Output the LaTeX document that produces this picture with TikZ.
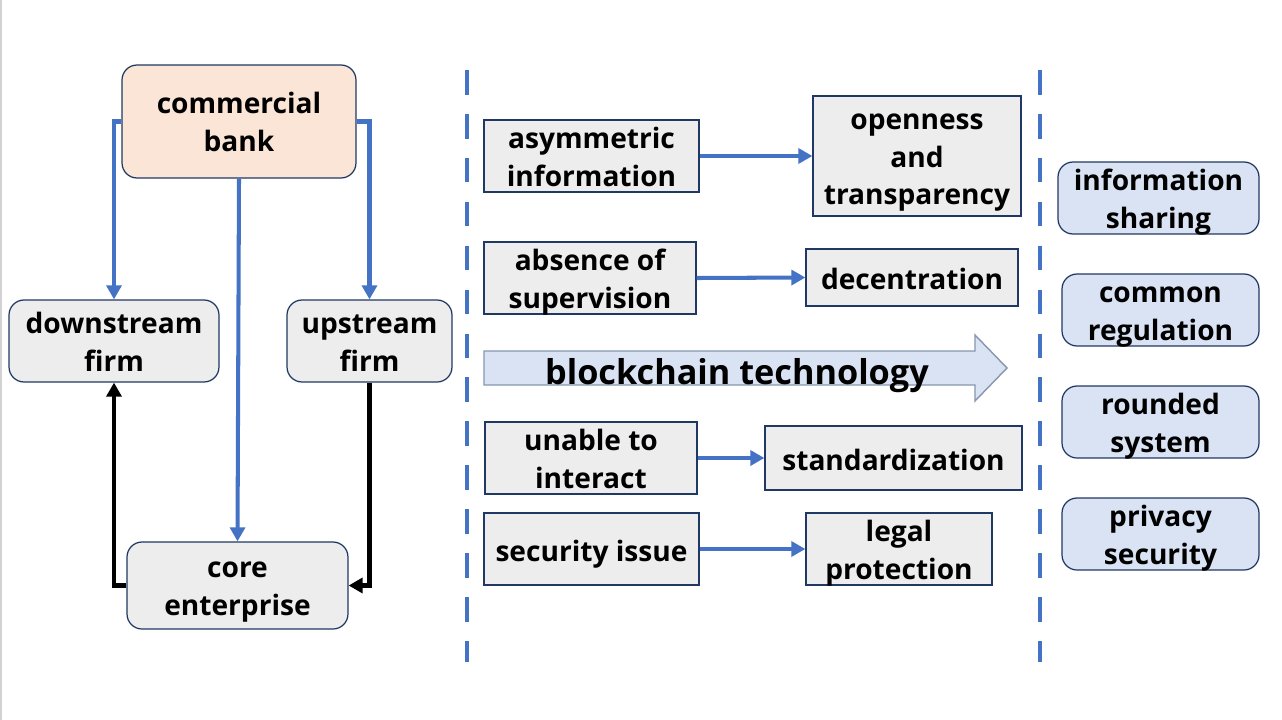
\documentclass[tikz,border=0pt]{standalone}
\usepackage{fontspec}
\setmainfont{Open Sans}
\usetikzlibrary{arrows.meta}
\definecolor{navy}{HTML}{203864}
\definecolor{arrowblue}{HTML}{4472C4}
\definecolor{peach}{HTML}{FBE5D6}
\definecolor{boxgray}{HTML}{EDEDED}
\definecolor{paleblue}{HTML}{DAE3F3}
\definecolor{edgeblue}{HTML}{8497B0}
\newcommand\toph{39.2pt}

\begin{document}
\begin{tikzpicture}[x=0.02cm,y=-0.02cm]
  \tikzstyle{every node}=[font=\bfseries\fontsize{16}{21.5}\selectfont,align=center,inner xsep=0pt,inner ysep=-5pt,
    execute at begin node={\rule{0pt}{\toph}},execute at end node={\rule[-5pt]{0pt}{5pt}}]
  \tikzstyle{oneline}=[/utils/exec={\def\toph{18.7pt}}]
  \tikzstyle{threeline}=[/utils/exec={\def\toph{60.7pt}}]
  \tikzstyle{rbox}=[draw=navy,line width=0.7pt,rounded corners=0.3cm,fill=boxgray]
  \tikzstyle{sbox}=[draw=navy,line width=0.7pt,fill=boxgray]
  \tikzstyle{gbox}=[rbox,fill=paleblue]
  \tikzstyle{bluearr}=[draw=arrowblue,line width=2.3pt,-{Triangle[length=8pt,width=8.5pt]}]
  \tikzstyle{blackarr}=[draw=black,line width=2.3pt,-{Triangle[length=8pt,width=8.5pt]}]
  \tikzstyle{dashline}=[draw=arrowblue,line width=2.8pt,dash pattern=on 14pt off 11pt]
  \useasboundingbox (0,0) rectangle (1282,720);
  \draw[gray!35,line width=0.8pt] (1,0) -- (1,720);

  \node[rbox,fill=peach,minimum width=4.68cm,minimum height=2.26cm] (bank) at (239,121.5) {commercial\\bank};
  \node[rbox,minimum width=4.2cm,minimum height=1.64cm] (down) at (114,341) {downstream\\firm};
  \node[rbox,minimum width=3.3cm,minimum height=1.64cm] (up) at (369.5,341) {upstream\\firm};
  \node[rbox,minimum width=4.42cm,minimum height=1.74cm] (core) at (237.5,585.5) {core\\enterprise};

  \draw[bluearr] (bank.west) -| (down.north);
  \draw[bluearr] (bank.east) -| (up.north);
  \draw[bluearr] (bank.south) -- (core.north);
  \draw[blackarr] (core.west) -| (down.south);
  \draw[blackarr] (up.south) |- (core.east);

  \draw[dashline] (467,70) -- (467,662);
  \draw[dashline] (1040,70) -- (1040,662);

  \node[sbox,minimum width=4.3cm,minimum height=1.44cm] (asym) at (591.5,156) {asymmetric\\information};
  \node[sbox,threeline,minimum width=4.16cm,minimum height=2.4cm] (open) at (917,156) {openness\\and\\transparency};
  \node[sbox,minimum width=4.24cm,minimum height=1.44cm] (absence) at (590,278) {absence of\\supervision};
  \node[sbox,oneline,minimum width=4.24cm,minimum height=1.14cm] (decent) at (912,277.5) {decentration};
  \node[sbox,minimum width=4.24cm,minimum height=1.44cm] (unable) at (591,458) {unable to\\interact};
  \node[sbox,oneline,minimum width=5.14cm,minimum height=1.28cm] (standard) at (893.5,458) {standardization};
  \node[sbox,oneline,minimum width=4.3cm,minimum height=1.44cm] (secur) at (591.5,549) {security issue};
  \node[sbox,minimum width=3.72cm,minimum height=1.44cm] (legal) at (899,549) {legal\\protection};

  \draw[bluearr] (asym.east) -- (open.west);
  \draw[bluearr] (absence.east) -- (decent.west);
  \draw[bluearr] (unable.east) -- (standard.west);
  \draw[bluearr] (secur.east) -- (legal.west);

  \draw[draw=edgeblue,fill=paleblue,line width=0.8pt] (484,351) -- (975,351) -- (975,335) -- (1007,368)
    -- (975,401) -- (975,385) -- (484,385) -- cycle;
  \node[oneline,font=\bfseries\fontsize{19.5}{24}\selectfont] (chain) at (737,372) {blockchain technology};

  \node[gbox,minimum width=4.02cm,minimum height=1.44cm] (share) at (1158.5,198) {information\\sharing};
  \node[gbox,minimum width=3.94cm,minimum height=1.44cm] (common) at (1160.5,310) {common\\regulation};
  \node[gbox,minimum width=3.94cm,minimum height=1.44cm] (system) at (1160.5,422) {rounded\\system};
  \node[gbox,minimum width=3.94cm,minimum height=1.44cm] (privacy) at (1160.5,534) {privacy\\security};
\end{tikzpicture}
\end{document}
